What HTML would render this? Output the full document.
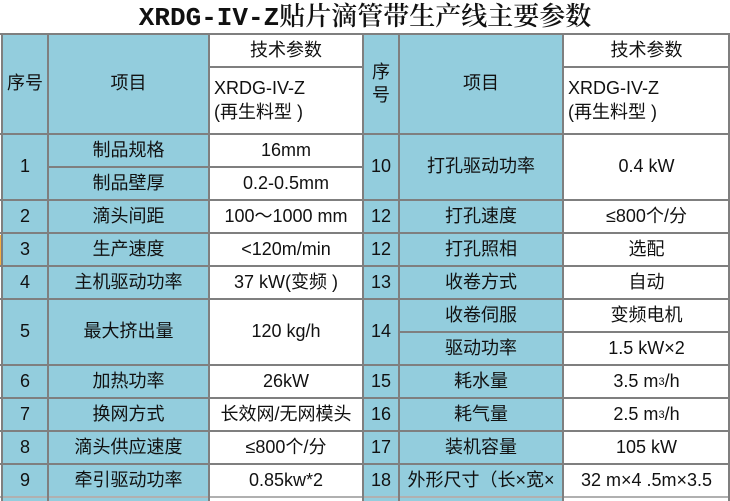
<!DOCTYPE html><html><head><meta charset="utf-8"><style>
body{margin:0;width:730px;height:501px;background:#fff;position:relative;overflow:hidden;font-family:"Liberation Sans","Noto Sans CJK SC",sans-serif;color:#111}
.c{position:absolute;display:flex;align-items:center;justify-content:center;font-size:18px;text-align:center;line-height:1.3}
.b{background:#93cddd}
.l{justify-content:flex-start;text-align:left;padding-left:5px;box-sizing:border-box}
.h{position:absolute;background:#7f7f7f;height:2px}
.v{position:absolute;background:#7f7f7f;width:2px}
.t{position:absolute;left:0;top:0;width:730px;height:34px;text-align:center;font:600 26px/36px "Liberation Mono","Noto Serif CJK SC",serif;color:#111}
sup{font-size:11px;vertical-align:8px;line-height:0}
</style></head><body>
<div class="t">XRDG-IV-Z贴片滴管带生产线主要参数</div>
<div class="c b" style="left:2px;top:34px;width:46px;height:100px">序号</div>
<div class="c b" style="left:48px;top:34px;width:161px;height:100px">项目</div>
<div class="c" style="left:209px;top:34px;width:154px;height:33px">技术参数</div>
<div class="c l" style="left:209px;top:67px;width:154px;height:67px">XRDG-IV-Z<br>(再生料型 )</div>
<div class="c b" style="left:363px;top:34px;width:36px;height:100px">序<br>号</div>
<div class="c b" style="left:399px;top:34px;width:164px;height:100px">项目</div>
<div class="c" style="left:563px;top:34px;width:167px;height:33px">技术参数</div>
<div class="c l" style="left:563px;top:67px;width:167px;height:67px">XRDG-IV-Z<br>(再生料型 )</div>

<div class="c b" style="left:2px;top:134px;width:46px;height:66px">1</div>
<div class="c b" style="left:48px;top:134px;width:161px;height:33px">制品规格</div>
<div class="c" style="left:209px;top:134px;width:154px;height:33px">16mm</div>
<div class="c b" style="left:48px;top:167px;width:161px;height:33px">制品壁厚</div>
<div class="c" style="left:209px;top:167px;width:154px;height:33px">0.2-0.5mm</div>
<div class="c b" style="left:363px;top:134px;width:36px;height:66px">10</div>
<div class="c b" style="left:399px;top:134px;width:164px;height:66px">打孔驱动功率</div>
<div class="c" style="left:563px;top:134px;width:167px;height:66px">0.4 kW</div>

<div class="c b" style="left:2px;top:200px;width:46px;height:33px">2</div>
<div class="c b" style="left:48px;top:200px;width:161px;height:33px">滴头间距</div>
<div class="c" style="left:209px;top:200px;width:154px;height:33px">100～1000 mm</div>
<div class="c b" style="left:363px;top:200px;width:36px;height:33px">12</div>
<div class="c b" style="left:399px;top:200px;width:164px;height:33px">打孔速度</div>
<div class="c" style="left:563px;top:200px;width:167px;height:33px">≤800个/分</div>

<div class="c b" style="left:2px;top:233px;width:46px;height:33px">3</div>
<div class="c b" style="left:48px;top:233px;width:161px;height:33px">生产速度</div>
<div class="c" style="left:209px;top:233px;width:154px;height:33px">&lt;120m/min</div>
<div class="c b" style="left:363px;top:233px;width:36px;height:33px">12</div>
<div class="c b" style="left:399px;top:233px;width:164px;height:33px">打孔照相</div>
<div class="c" style="left:563px;top:233px;width:167px;height:33px">选配</div>

<div class="c b" style="left:2px;top:266px;width:46px;height:33px">4</div>
<div class="c b" style="left:48px;top:266px;width:161px;height:33px">主机驱动功率</div>
<div class="c" style="left:209px;top:266px;width:154px;height:33px">37 kW(变频 )</div>
<div class="c b" style="left:363px;top:266px;width:36px;height:33px">13</div>
<div class="c b" style="left:399px;top:266px;width:164px;height:33px">收卷方式</div>
<div class="c" style="left:563px;top:266px;width:167px;height:33px">自动</div>

<div class="c b" style="left:2px;top:299px;width:46px;height:66px">5</div>
<div class="c b" style="left:48px;top:299px;width:161px;height:66px">最大挤出量</div>
<div class="c" style="left:209px;top:299px;width:154px;height:66px">120 kg/h</div>
<div class="c b" style="left:363px;top:299px;width:36px;height:66px">14</div>
<div class="c b" style="left:399px;top:299px;width:164px;height:33px">收卷伺服</div>
<div class="c" style="left:563px;top:299px;width:167px;height:33px">变频电机</div>
<div class="c b" style="left:399px;top:332px;width:164px;height:33px">驱动功率</div>
<div class="c" style="left:563px;top:332px;width:167px;height:33px">1.5 kW×2</div>

<div class="c b" style="left:2px;top:365px;width:46px;height:33px">6</div>
<div class="c b" style="left:48px;top:365px;width:161px;height:33px">加热功率</div>
<div class="c" style="left:209px;top:365px;width:154px;height:33px">26kW</div>
<div class="c b" style="left:363px;top:365px;width:36px;height:33px">15</div>
<div class="c b" style="left:399px;top:365px;width:164px;height:33px">耗水量</div>
<div class="c" style="left:563px;top:365px;width:167px;height:33px">3.5 m<sup>3</sup>/h</div>

<div class="c b" style="left:2px;top:398px;width:46px;height:33px">7</div>
<div class="c b" style="left:48px;top:398px;width:161px;height:33px">换网方式</div>
<div class="c" style="left:209px;top:398px;width:154px;height:33px">长效网/无网模头</div>
<div class="c b" style="left:363px;top:398px;width:36px;height:33px">16</div>
<div class="c b" style="left:399px;top:398px;width:164px;height:33px">耗气量</div>
<div class="c" style="left:563px;top:398px;width:167px;height:33px">2.5 m<sup>3</sup>/h</div>

<div class="c b" style="left:2px;top:431px;width:46px;height:33px">8</div>
<div class="c b" style="left:48px;top:431px;width:161px;height:33px">滴头供应速度</div>
<div class="c" style="left:209px;top:431px;width:154px;height:33px">≤800个/分</div>
<div class="c b" style="left:363px;top:431px;width:36px;height:33px">17</div>
<div class="c b" style="left:399px;top:431px;width:164px;height:33px">装机容量</div>
<div class="c" style="left:563px;top:431px;width:167px;height:33px">105 kW</div>

<div class="c b" style="left:2px;top:464px;width:46px;height:33px">9</div>
<div class="c b" style="left:48px;top:464px;width:161px;height:33px">牵引驱动功率</div>
<div class="c" style="left:209px;top:464px;width:154px;height:33px">0.85kw*2</div>
<div class="c b" style="left:363px;top:464px;width:36px;height:33px">18</div>
<div class="c b" style="left:399px;top:464px;width:164px;height:33px;white-space:nowrap;overflow:hidden">外形尺寸（长×宽×</div>
<div class="c" style="left:563px;top:464px;width:167px;height:33px;white-space:nowrap;overflow:hidden">32 m×4 .5m×3.5</div>
<div class="b" style="position:absolute;left:2px;top:497px;width:46px;height:4px"></div>
<div class="b" style="position:absolute;left:48px;top:497px;width:161px;height:4px"></div>
<div class="b" style="position:absolute;left:363px;top:497px;width:200px;height:4px"></div>

<div style="position:absolute;left:0;top:235px;width:3px;height:30px;background:#f5b041"></div>
<div class="h" style="left:0;top:33px;width:730px"></div>
<div class="h" style="left:209px;top:66px;width:154px"></div>
<div class="h" style="left:563px;top:66px;width:167px"></div>
<div class="h" style="left:0;top:133px;width:730px"></div>
<div class="h" style="left:48px;top:166px;width:315px"></div>
<div class="h" style="left:0;top:199px;width:730px"></div>
<div class="h" style="left:0;top:232px;width:730px"></div>
<div class="h" style="left:0;top:265px;width:730px"></div>
<div class="h" style="left:0;top:298px;width:730px"></div>
<div class="h" style="left:399px;top:331px;width:331px"></div>
<div class="h" style="left:0;top:364px;width:730px"></div>
<div class="h" style="left:0;top:397px;width:730px"></div>
<div class="h" style="left:0;top:430px;width:730px"></div>
<div class="h" style="left:0;top:463px;width:730px"></div>
<div class="h" style="left:0;top:496px;width:730px;background:#b0b0b0"></div>
<div class="v" style="left:1px;top:33px;height:468px"></div>
<div class="v" style="left:47px;top:33px;height:468px"></div>
<div class="v" style="left:208px;top:33px;height:468px"></div>
<div class="v" style="left:362px;top:33px;height:468px"></div>
<div class="v" style="left:398px;top:33px;height:468px"></div>
<div class="v" style="left:562px;top:33px;height:468px"></div>
<div class="v" style="left:728px;top:33px;height:468px"></div>
</body></html>
